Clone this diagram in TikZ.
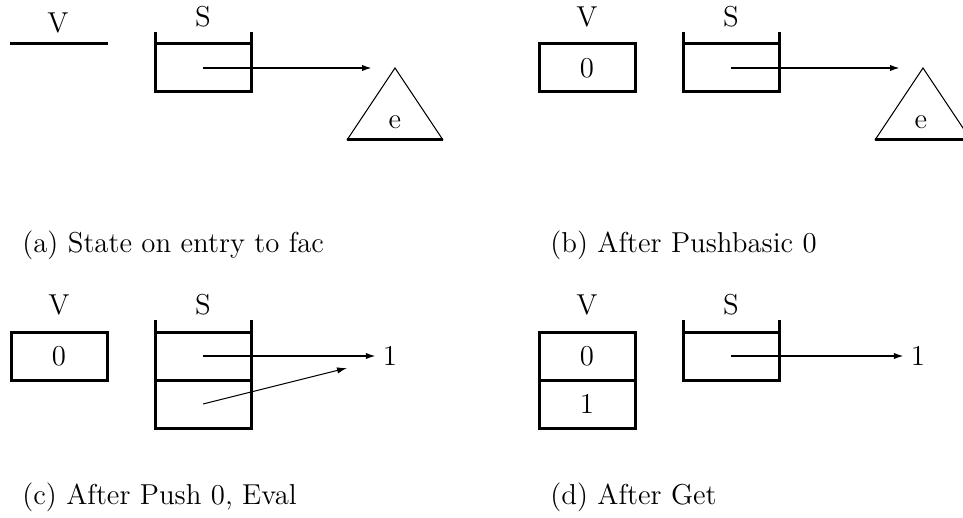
\documentclass[tikz,border=0pt]{standalone}
\usepackage{tikz}
\usetikzlibrary{arrows.meta, positioning}

\tikzset{
    cell/.style={draw, line width=1.5pt, minimum width=48pt, minimum height=24pt, inner sep=0pt, outer sep=0pt},
    ptr/.style={line width=0.9pt, -{Latex[length=5pt, width=3.2pt]}},
    thinptr/.style={line width=0.5pt, -{Latex[length=5pt, width=3.2pt]}},
    wall/.style={line width=1.5pt},
    tag/.style={inner sep=1pt},
    caption/.style={anchor=west, inner sep=0pt}
}

\begin{document}
\begin{tikzpicture}[x=0.5pt, y=-0.5pt, font=\fontsize{14.4}{17}\selectfont]
    \useasboundingbox (0,0) rectangle (963,518);
    \clip (0,0) rectangle (963,518);

    % (a) state on entry to fac
    \draw[wall] (10,44) -- (108,44);
    \node[tag] (va) at (58,23) {V};
    \node[cell] (sa) at (203,68) {};
    \draw[wall] (sa.north west) -- ++(0,-12) (sa.north east) -- ++(0,-12);
    \node[tag, above=7pt of sa.north] (sla) {S};
    \coordinate (ta) at (395,68);
    \coordinate (ea) at (372,68);
    \draw[line width=0.5pt] (347,140) -- (ta) -- (443,140);
    \draw[wall] (347,140) -- (443,140);
    \node (tea) at (395,122) {e};
    \draw[ptr] (sa.center) -- (ea);
    \node[caption] (capa) at (22,245) {(a) State on entry to fac};

    % (b) after Pushbasic 0
    \node[cell] (vb) at (587,68) {0};
    \node[tag, above=7pt of vb.north] (vlb) {V};
    \node[cell] (sb) at (731,68) {};
    \draw[wall] (sb.north west) -- ++(0,-12) (sb.north east) -- ++(0,-12);
    \node[tag, above=7pt of sb.north] (slb) {S};
    \coordinate (tb) at (923,68);
    \coordinate (eb) at (900,68);
    \draw[line width=0.5pt] (875,140) -- (tb) -- (971,140);
    \draw[wall] (875,140) -- (971,140);
    \node (teb) at (921,122) {e};
    \draw[ptr] (sb.center) -- (eb);
    \node[caption] (capb) at (550,245) {(b) After Pushbasic 0};

    % (c) after Push 0, Eval
    \node[cell] (vc) at (59,356) {0};
    \node[tag, above=7pt of vc.north] (vlc) {V};
    \node[cell] (sc1) at (203,356) {};
    \node[cell, below=0pt of sc1] (sc2) {};
    \draw[wall] (sc1.north west) -- ++(0,-12) (sc1.north east) -- ++(0,-12);
    \node[tag, above=7pt of sc1.north] (slc) {S};
    \node (onec) at (390,356) {1};
    \coordinate (ec) at (347,368);
    \draw[ptr] (sc1.center) -- (sc1.center -| onec.west);
    \draw[thinptr] (sc2.center) -- (ec);
    \node[caption] (capc) at (22,497) {(c) After Push 0, Eval};

    % (d) after Get
    \node[cell] (vd1) at (587,356) {0};
    \node[cell, below=0pt of vd1] (vd2) {1};
    \node[tag, above=7pt of vd1.north] (vld) {V};
    \node[cell] (sd) at (731,356) {};
    \draw[wall] (sd.north west) -- ++(0,-12) (sd.north east) -- ++(0,-12);
    \node[tag, above=7pt of sd.north] (sld) {S};
    \node (oned) at (918,356) {1};
    \draw[ptr] (sd.center) -- (sd.center -| oned.west);
    \node[caption] (capd) at (550,497) {(d) After Get};
\end{tikzpicture}
\end{document}
